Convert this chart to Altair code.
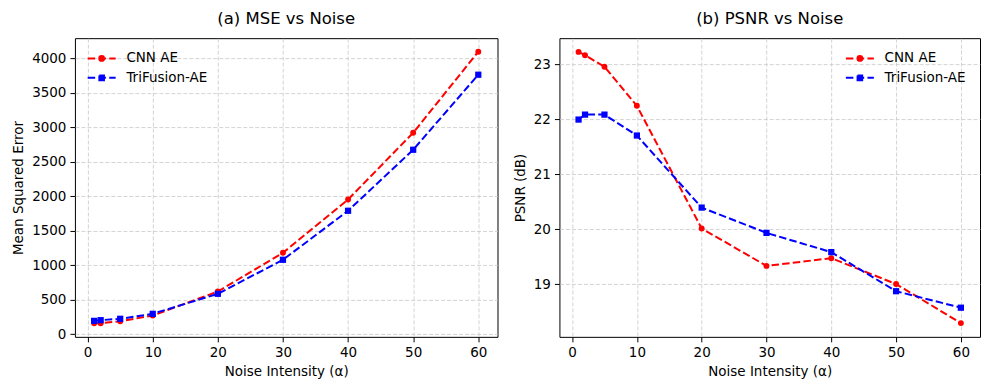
import altair as alt
import pandas as pd

noise = [1, 2, 5, 10, 20, 30, 40, 50, 60]
mse_cnn = [161, 160, 190, 272, 620, 1181, 1953, 2920, 4094]
mse_tri = [195, 205, 225, 297, 587, 1080, 1790, 2674, 3761]
psnr_cnn = [23.22, 23.16, 22.95, 22.24, 20.01, 19.33, 19.47, 19.00, 18.29]
psnr_tri = [21.99, 22.08, 22.08, 21.70, 20.39, 19.93, 19.58, 18.87, 18.57]
series_names = ["CNN AE", "TriFusion-AE"]
x_ticks = [0, 10, 20, 30, 40, 50, 60]
mse_ticks = [0, 500, 1000, 1500, 2000, 2500, 3000, 3500, 4000]
psnr_ticks = [19, 20, 21, 22, 23]

FONT = "DejaVu Sans"
FS = 13.5
RED = "#ff0000"
BLUE = "#0000ff"

CIRCLE_SYM = ("M-14,0L-6.5,0M-3.2,0L4.3,0M7.6,0L14,0"
              "M2.4,0A2.4,2.4 0 1,1 -2.4,0A2.4,2.4 0 1,1 2.4,0Z")
SQUARE_SYM = ("M-14,0L-6.5,0M-3.2,0L4.3,0M7.6,0L14,0"
              "M-2.3,-2.3L2.3,-2.3L2.3,2.3L-2.3,2.3Z")


def long_df(a, b):
    return pd.DataFrame({
        "noise": noise * 2,
        "value": a + b,
        "series": [series_names[0]] * len(noise) + [series_names[1]] * len(noise),
    })


def xenc():
    return alt.X("noise:Q",
                 scale=alt.Scale(domain=[-1.95, 62.95], nice=False, zero=False),
                 axis=alt.Axis(values=x_ticks, title="Noise Intensity (α)",
                               format="d", labelFlush=False, labelOverlap=False))


def yenc(title, dom, ticks):
    return alt.Y("value:Q",
                 scale=alt.Scale(domain=dom, nice=False, zero=False),
                 axis=alt.Axis(values=ticks, title=title, format="d",
                               labelFlush=False, labelOverlap=False,
                               titlePadding=6))


def series_layer(df, name, color, shape, size, sym, lx, ly, ytitle, ydom, yticks):
    d = df[df["series"] == name]
    base = alt.Chart(d).encode(x=xenc(), y=yenc(ytitle, ydom, yticks))
    line = base.mark_line(strokeDash=[7.5, 3.2], strokeWidth=2).encode(
        color=alt.Color("series:N",
                        scale=alt.Scale(domain=[name], range=[color]),
                        legend=alt.Legend(title=None, orient="none",
                                          legendX=lx, legendY=ly,
                                          symbolType=sym, symbolSize=4,
                                          symbolStrokeWidth=2,
                                          symbolFillColor=color,
                                          symbolStrokeColor=color,
                                          symbolDash=[1000, 0],
                                          labelFontSize=FS, labelFont=FONT,
                                          labelColor="black",
                                          labelOffset=18, padding=0)))
    pts = base.mark_point(shape=shape, filled=True, size=size, opacity=1,
                          color=color)
    return line + pts


def panel(a, b, title, ytitle, ydom, yticks, lx, ly):
    df = long_df(a, b)
    l1 = series_layer(df, "CNN AE", RED, "circle", 35, CIRCLE_SYM, lx, ly,
                      ytitle, ydom, yticks)
    l2 = series_layer(df, "TriFusion-AE", BLUE, "square", 39, SQUARE_SYM, lx, ly + 19.5,
                      ytitle, ydom, yticks)
    return alt.layer(l1, l2).resolve_scale(color="independent").properties(
        width=423, height=299,
        title=alt.TitleParams(title, fontSize=16.5, font=FONT, fontWeight="normal",
                              color="black", anchor="middle", baseline="bottom",
                              offset=-5))


left = panel(mse_cnn, mse_tri, "(a) MSE vs Noise", "Mean Squared Error",
             [-36.7, 4290.7], mse_ticks, 20, 13.5)
right = panel(psnr_cnn, psnr_tri, "(b) PSNR vs Noise", "PSNR (dB)",
              [18.04, 23.47], psnr_ticks, 294, 13.5).properties(width=421)

chart = alt.hconcat(left, right, spacing=14).properties(
    padding={"left": 3, "top": 2, "right": 0, "bottom": 0}
).configure_view(stroke="black", strokeWidth=1).configure_axis(
    domain=False, tickColor="black", tickSize=5, tickWidth=1,
    labelFontSize=FS, labelFont=FONT, labelColor="black", labelPadding=4,
    titleFontSize=FS, titleFont=FONT, titleFontWeight="normal",
    titleColor="black", gridColor="#c8c8c8", gridDash=[4, 2], gridWidth=0.8,
).configure_axisX(titlePadding=5)

chart.save("out.html", embed_options={"renderer": "svg", "actions": False})
